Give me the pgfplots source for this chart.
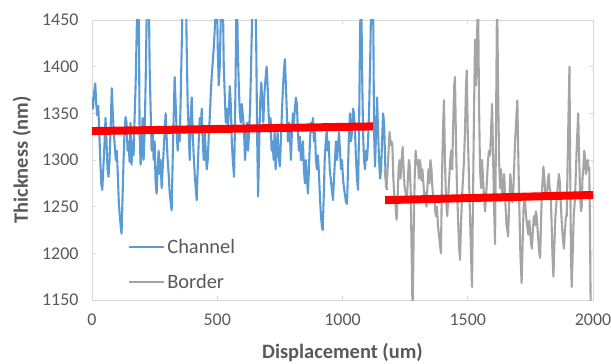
\documentclass[border=0pt]{standalone}
\usepackage{fontspec}
\setmainfont{Carlito}
\usepackage{pgfplots}
\pgfplotsset{compat=1.18}
\definecolor{chblue}{HTML}{5B9BD5}
\definecolor{bdgray}{HTML}{A5A5A5}
\definecolor{axgray}{HTML}{D9D9D9}
\definecolor{txtgray}{HTML}{595959}
\begin{document}
\begin{tikzpicture}
\useasboundingbox (-92bp,-64bp) rectangle (519bp,300bp);
\begin{axis}[
  anchor=south west, at={(0,0)},
  scale only axis, width=501bp, height=280bp,
  xmin=0, xmax=2000, ymin=1150, ymax=1450,
  xtick={0,500,1000,1500,2000},
  ytick={1150,1200,...,1450},
  axis line style={axgray, line width=0.8bp},
  tick style={axgray, line width=0.8bp},
  tick align=inside, major tick length=4bp,
  x tick label style={font=\fontsize{18}{21}\selectfont, text=txtgray, yshift=-10bp},
  y tick label style={font=\fontsize{18}{21}\selectfont, text=txtgray, xshift=-10bp},
  /pgf/number format/1000 sep={},
  /pgf/number format/assume math mode=true,
  xlabel={Displacement (um)}, ylabel={Thickness (nm)},
  xlabel style={font=\bfseries\fontsize{20.5}{24}\selectfont, text=txtgray, at={(axis description cs:0.5,-0.186)}, anchor=center},
  ylabel style={font=\bfseries\fontsize{20.5}{24}\selectfont, text=txtgray, at={(axis description cs:-0.14,0.5)}, anchor=center, rotate=0},
  legend style={draw=none, fill=none, at={(axis description cs:0.072,0.027)}, anchor=south west,
     font=\fontsize{20.5}{24}\selectfont, text=txtgray, row sep=16bp, inner sep=0pt},
  legend cell align=left,
  legend image code/.code={\draw[#1] (0bp,0bp) -- (35bp,0bp);},
]
\addplot[chblue, line width=2.1bp, line join=round] coordinates {
(0,1367)(4,1355)(8,1372)(13,1382)(17,1360)(21,1348)(25,1358)(29,1330)(33,1300)(37,1275)
(41,1268)(45,1290)(50,1318)(54,1345)(58,1320)(62,1290)(66,1282)(70,1300)(75,1340)(79,1377)
(83,1350)(87,1330)(91,1315)(95,1300)(99,1310)(103,1285)(107,1255)(111,1240)(115,1228)(118,1221)
(122,1260)(126,1300)(130,1330)(134,1346)(138,1340)(142,1310)(146,1320)(150,1298)(154,1340)(158,1295)
(162,1320)(166,1305)(170,1345)(174,1380)(178,1430)(182,1490)(186,1500)(190,1330)(194,1295)(198,1310)
(202,1345)(206,1300)(210,1330)(214,1380)(218,1450)(222,1490)(226,1500)(230,1400)(234,1355)(238,1310)
(242,1330)(246,1300)(250,1320)(254,1275)(258,1264)(262,1290)(266,1310)(270,1285)(274,1300)(278,1270)
(282,1290)(286,1310)(290,1330)(294,1350)(298,1325)(302,1300)(306,1285)(310,1265)(314,1255)(318,1246)
(322,1300)(326,1345)(330,1389)(334,1360)(338,1330)(342,1310)(346,1335)(350,1320)(354,1365)(358,1420)
(362,1480)(366,1500)(370,1470)(374,1500)(378,1420)(382,1360)(386,1330)(390,1300)(394,1345)(398,1367)
(402,1330)(406,1305)(410,1285)(414,1270)(418,1257)(422,1290)(426,1320)(430,1345)(434,1330)(438,1355)
(442,1320)(446,1300)(450,1330)(454,1310)(458,1290)(462,1300)(466,1325)(470,1345)(474,1370)(478,1390)
(482,1405)(486,1420)(490,1440)(494,1470)(498,1490)(502,1420)(506,1380)(510,1400)(514,1450)(518,1500)
(522,1480)(526,1400)(530,1370)(534,1340)(538,1355)(542,1335)(546,1350)(550,1379)(554,1360)(558,1320)
(562,1300)(567,1282)(571,1340)(575,1430)(578,1500)(582,1420)(586,1380)(590,1350)(594,1340)(598,1360)
(603,1346)(607,1330)(611,1300)(615,1320)(619,1340)(623,1310)(627,1330)(631,1355)(635,1400)(639,1450)
(643,1500)(647,1470)(651,1500)(655,1440)(659,1330)(663,1261)(667,1310)(671,1360)(676,1383)(680,1360)
(684,1340)(688,1370)(692,1385)(697,1400)(701,1380)(705,1350)(709,1330)(713,1345)(717,1310)(721,1320)
(725,1300)(729,1330)(733,1290)(737,1310)(741,1330)(745,1305)(750,1293)(754,1320)(758,1350)(762,1375)
(766,1395)(770,1408)(774,1380)(778,1350)(782,1320)(786,1340)(790,1327)(794,1300)(798,1330)(802,1350)
(806,1340)(810,1355)(814,1367)(818,1360)(822,1330)(826,1310)(830,1325)(834,1300)(838,1300)(842,1320)
(846,1290)(850,1275)(854,1300)(858,1280)(862,1264)(866,1290)(870,1320)(874,1340)(878,1330)(882,1345)
(886,1320)(890,1330)(894,1300)(898,1290)(902,1305)(906,1285)(910,1260)(914,1240)(918,1228)(921,1225)
(925,1260)(929,1300)(933,1320)(937,1331)(941,1310)(945,1320)(949,1290)(953,1280)(957,1270)(962,1257)
(966,1280)(970,1300)(974,1320)(978,1300)(982,1314)(986,1330)(990,1310)(994,1290)(998,1300)(1002,1280)
(1006,1270)(1010,1262)(1014,1255)(1018,1253)(1022,1290)(1026,1330)(1030,1350)(1034,1320)(1038,1330)(1042,1355)
(1046,1350)(1050,1330)(1054,1300)(1058,1280)(1062,1268)(1066,1330)(1070,1430)(1074,1500)(1078,1400)(1082,1330)
(1086,1300)(1090,1290)(1094,1310)(1098,1300)(1102,1320)(1106,1350)(1110,1400)(1114,1460)(1118,1500)(1122,1480)
(1126,1330)(1130,1293)(1134,1330)(1138,1367)(1142,1330)(1146,1300)(1150,1280)(1154,1290)(1158,1320)(1162,1350)
(1166,1340)(1170,1300)(1174,1272)(1178,1268)
};
\addlegendentry{Channel}
\addplot[bdgray, line width=2.1bp, line join=round] coordinates {
(1168,1290)(1172,1280)(1176,1271)(1180,1290)(1184,1310)(1188,1330)(1192,1316)(1196,1320)(1199,1316)(1203,1280)
(1207,1260)(1210,1257)(1213,1245)(1216,1236)(1220,1260)(1224,1290)(1228,1300)(1232,1280)(1236,1300)(1240,1314)
(1244,1290)(1248,1270)(1252,1265)(1257,1257)(1261,1280)(1265,1300)(1268,1295)(1272,1270)(1276,1200)(1280,1130)
(1284,1220)(1288,1280)(1292,1310)(1297,1295)(1301,1300)(1305,1280)(1309,1300)(1313,1290)(1315,1278)(1319,1290)
(1323,1275)(1327,1260)(1331,1265)(1335,1250)(1339,1270)(1343,1290)(1347,1275)(1351,1300)(1355,1290)(1359,1270)
(1363,1255)(1367,1260)(1370,1245)(1373,1240)(1377,1250)(1381,1230)(1385,1220)(1389,1210)(1393,1200)(1397,1280)
(1401,1330)(1405,1364)(1409,1300)(1413,1260)(1418,1240)(1422,1260)(1426,1280)(1430,1300)(1434,1310)(1438,1290)
(1442,1340)(1446,1380)(1449,1389)(1453,1320)(1457,1270)(1461,1240)(1465,1210)(1469,1193)(1473,1230)(1477,1260)
(1481,1280)(1485,1300)(1489,1330)(1493,1380)(1496,1396)(1500,1330)(1503,1300)(1507,1260)(1511,1220)(1514,1190)
(1517,1164)(1521,1260)(1525,1350)(1529,1429)(1533,1380)(1537,1430)(1541,1480)(1545,1360)(1549,1290)(1553,1270)
(1557,1300)(1561,1280)(1565,1260)(1569,1245)(1573,1260)(1577,1280)(1581,1300)(1585,1310)(1589,1305)(1593,1330)
(1597,1360)(1601,1307)(1605,1250)(1609,1210)(1613,1340)(1617,1480)(1621,1380)(1625,1300)(1629,1270)(1633,1290)
(1637,1260)(1641,1270)(1645,1285)(1647,1275)(1651,1250)(1655,1230)(1658,1225)(1661,1218)(1665,1250)(1670,1285)
(1674,1270)(1678,1255)(1681,1260)(1685,1290)(1689,1320)(1694,1345)(1698,1364)(1702,1300)(1706,1250)(1710,1200)
(1715,1168)(1719,1210)(1723,1250)(1726,1260)(1729,1255)(1733,1240)(1737,1230)(1742,1220)(1746,1235)(1750,1220)
(1753,1210)(1756,1205)(1760,1225)(1764,1240)(1768,1230)(1772,1245)(1775,1240)(1779,1225)(1783,1210)(1786,1200)
(1789,1195)(1793,1240)(1797,1270)(1802,1293)(1806,1280)(1810,1260)(1815,1258)(1819,1275)(1823,1285)(1827,1270)
(1831,1265)(1835,1230)(1838,1200)(1842,1175)(1846,1210)(1850,1240)(1855,1258)(1859,1270)(1864,1285)(1868,1275)
(1872,1250)(1876,1230)(1880,1215)(1884,1205)(1888,1225)(1892,1240)(1895,1240)(1899,1300)(1903,1360)(1906,1400)
(1909,1290)(1912,1200)(1915,1164)(1919,1200)(1923,1240)(1928,1258)(1932,1290)(1936,1320)(1941,1350)(1945,1300)
(1949,1260)(1952,1245)(1955,1250)(1958,1280)(1961,1290)(1965,1310)(1969,1300)(1972,1285)(1975,1290)(1979,1300)
(1982,1290)(1985,1292)(1988,1230)(1991,1130)(1995,1130)
};
\addlegendentry{Border}
\addplot[red, line width=8bp, forget plot] coordinates {(0,1331)(1122,1336)};
\addplot[red, line width=8bp, forget plot] coordinates {(1170,1257)(2000,1262.5)};
\end{axis}
\end{tikzpicture}
\end{document}
